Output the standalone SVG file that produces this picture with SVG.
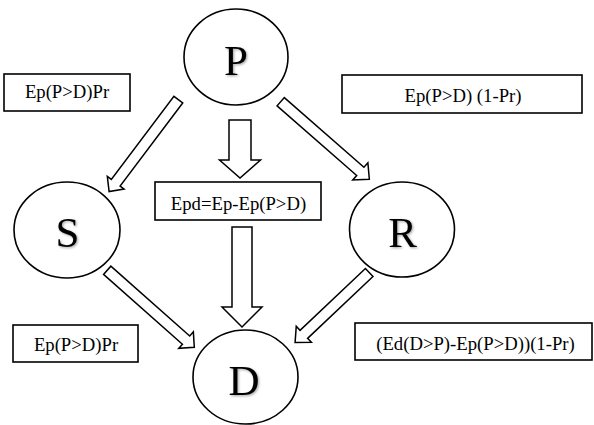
<svg xmlns="http://www.w3.org/2000/svg" width="594" height="425" viewBox="0 0 594 425">
<defs>
<style>
.node{fill:#fff;stroke:#000;stroke-width:1.6}
.big{font-family:"Liberation Serif","Times New Roman",serif;font-size:43px;text-anchor:middle;fill:#000}
.box{fill:#fff;stroke:#000;stroke-width:1.6}
.lbl{font-family:"Liberation Serif","Times New Roman",serif;font-size:18.7px;text-anchor:middle;fill:#000}
.arr{fill:#fff;stroke:#000;stroke-width:1.5;stroke-linejoin:miter}
</style>
<filter id="sh" x="-20%" y="-20%" width="150%" height="150%">
<feDropShadow dx="1.2" dy="1.2" stdDeviation="0.9" flood-color="#000" flood-opacity="0.35"/>
</filter>
</defs>
<rect width="594" height="425" fill="#fff"/>
<g id="connectors">
<polygon class="arr" transform="translate(178.3,99.7) rotate(127)" points="0,-5.5 104,-5.5 104,-10.5 115,0 104,10.5 104,5.5 0,5.5"/>
<polygon class="arr" transform="translate(280.7,101.7) rotate(41.2)" points="0,-5.5 105.8,-5.5 105.8,-11.5 117.8,0 105.8,11.5 105.8,5.5 0,5.5"/>
<polygon class="arr" transform="translate(107.2,270.3) rotate(41.5)" points="0,-5.5 105.3,-5.5 105.3,-11 116.3,0 105.3,11 105.3,5.5 0,5.5"/>
<polygon class="arr" transform="translate(369.2,272.5) rotate(136.6)" points="0,-5.5 90,-5.5 90,-11 102,0 90,11 90,5.5 0,5.5"/>
<polygon class="arr" points="229,120 251,120 251,160 260.5,160 240,178 219.5,160 229,160"/>
<polygon class="arr" points="232,227 252,227 252,307 262,307 242,327 222,307 232,307"/>
</g>
<g id="node-P">
<ellipse class="node" cx="236" cy="57" rx="52" ry="48"/>
<text class="big" x="236" y="75" filter="url(#sh)">P</text>
</g>
<g id="node-S">
<ellipse class="node" cx="67" cy="230" rx="53" ry="48"/>
<text class="big" x="67.5" y="247" filter="url(#sh)">S</text>
</g>
<g id="node-R">
<ellipse class="node" cx="402" cy="229.5" rx="52.5" ry="47.5"/>
<text class="big" x="402.5" y="247" filter="url(#sh)">R</text>
</g>
<g id="node-D">
<ellipse class="node" cx="245.5" cy="377" rx="52.5" ry="47"/>
<text class="big" x="244" y="395" filter="url(#sh)">D</text>
</g>
<g id="label-PS">
<rect class="box" x="4" y="74" width="126" height="37"/>
<text class="lbl" x="67" y="98">Ep(P&gt;D)Pr</text>
</g>
<g id="label-PR">
<rect class="box" x="342" y="75" width="240" height="38"/>
<text class="lbl" x="463" y="102">Ep(P&gt;D) (1-Pr)</text>
</g>
<g id="label-PD">
<rect class="box" x="155" y="182" width="166" height="38"/>
<text class="lbl" x="238.5" y="210">Epd=Ep-Ep(P&gt;D)</text>
</g>
<g id="label-SD">
<rect class="box" x="13" y="325" width="125" height="37"/>
<text class="lbl" x="76" y="351">Ep(P&gt;D)Pr</text>
</g>
<g id="label-RD">
<rect class="box" x="355" y="323" width="237" height="37"/>
<text class="lbl" x="475.5" y="350">(Ed(D&gt;P)-Ep(P&gt;D))(1-Pr)</text>
</g>
</svg>
